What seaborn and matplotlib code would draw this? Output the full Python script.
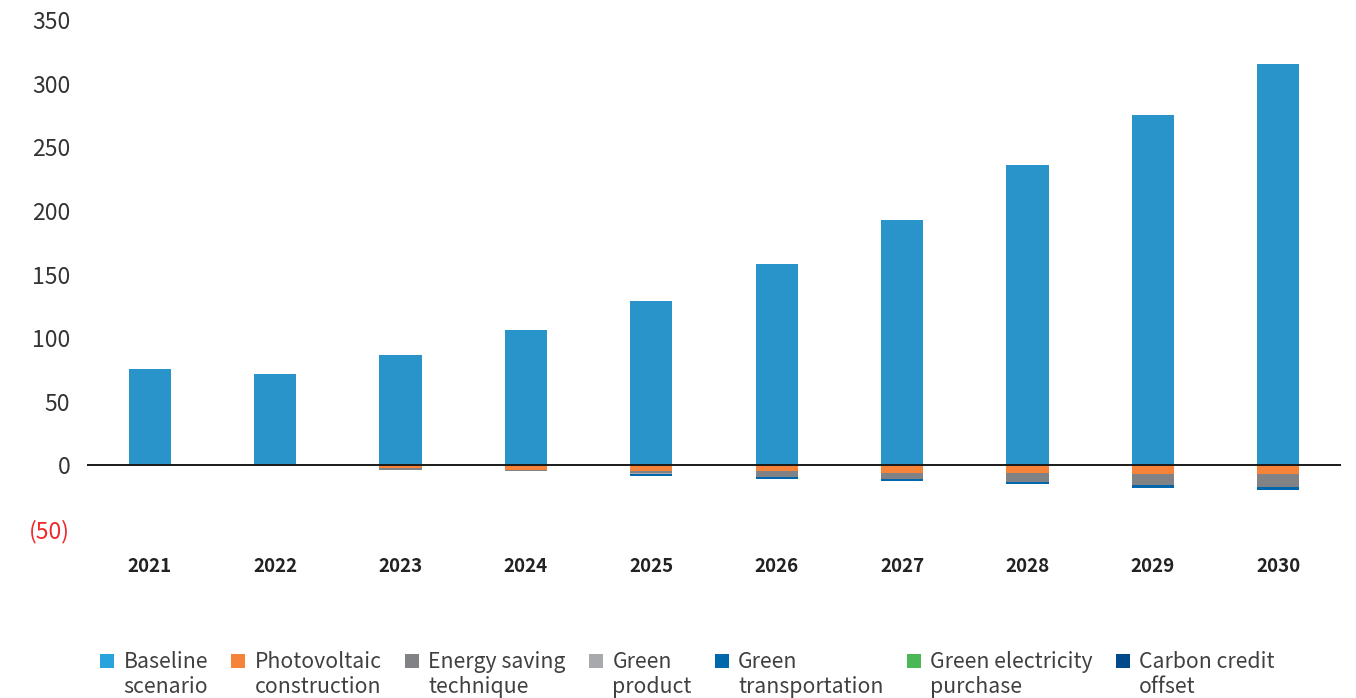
import matplotlib
matplotlib.use("Agg")
import matplotlib.pyplot as plt
import seaborn as sns
import numpy as np
import pandas as pd
from matplotlib.patches import Patch, Rectangle
from matplotlib.legend_handler import HandlerPatch

years = ["2021", "2022", "2023", "2024", "2025", "2026", "2027", "2028", "2029", "2030"]
baseline = [76, 72, 87, 106, 129, 158.5, 193, 236, 275, 315.5]
photovoltaic = [0, 0, -2.2, -3.4, -4.2, -4.2, -5.8, -5.8, -6.5, -7.0]
energy_saving = [0, 0, -1.5, -1.3, -2.1, -4.7, -4.7, -7.0, -8.6, -9.7]
green_product = [0, 0, 0, 0, -0.3, -0.3, -0.3, -0.3, -0.3, -0.3]
green_transport = [0, 0, 0, 0, -1.6, -1.6, -1.6, -1.6, -2.4, -2.4]
green_electricity = [0, 0, 0, 0, 0, 0, 0, 0, 0, 0]
carbon_offset = [0, 0, 0, 0, 0, 0, 0, 0, 0, 0]

labels = ["Baseline\nscenario", "Photovoltaic\nconstruction", "Energy saving\ntechnique",
          "Green\nproduct", "Green\ntransportation", "Green electricity\npurchase",
          "Carbon credit\noffset"]
bar_colors = ["#2894c9", "#f5843a", "#808285", "#a7a9ac", "#0067ac", "#4cb756", "#00498a"]
legend_colors = ["#29a3dc", "#f5843a", "#808285", "#a7a9ac", "#0067ac", "#4cb756", "#00498a"]
yticks = [-50, 0, 50, 100, 150, 200, 250, 300, 350]
ytick_labels = ["(50)", "0", "50", "100", "150", "200", "250", "300", "350"]

sns.set_theme(style="white")
plt.rcParams["font.family"] = ["Noto Sans CJK SC", "DejaVu Sans"]

fig = plt.figure(figsize=(13.56, 6.98), dpi=100)
ax = fig.add_axes([87/1356, (698-529)/698, 1254/1356, (529-20)/698])

series = [baseline, photovoltaic, energy_saving, green_product, green_transport,
          green_electricity, carbon_offset]
neg_bottom = np.zeros(len(years))
for i, s in enumerate(series):
    vals = np.array(s, dtype=float)
    df = pd.DataFrame({"year": years, "value": vals})
    if i == 0:
        sns.barplot(data=df, x="year", y="value", color=bar_colors[i], width=0.335,
                    saturation=1, ax=ax, linewidth=0)
    else:
        sns.barplot(data=df, x="year", y="value", color=bar_colors[i], width=0.335,
                    saturation=1, ax=ax, linewidth=0, bottom=neg_bottom.copy())
        neg_bottom = neg_bottom + vals

ax.axhline(0, color="#1a1a1a", lw=1.4, zorder=5)
ax.set_ylim(-50, 350)
ax.set_yticks(yticks)
ax.set_yticklabels(ytick_labels, fontsize=16.5, color="#333333")
ax.get_yticklabels()[0].set_color("#ee2a2a")
ax.tick_params(axis="y", length=0, pad=12)
ax.tick_params(axis="x", length=0, pad=20)
for t in ax.get_xticklabels():
    t.set_fontsize(13.5)
    t.set_fontweight("bold")
    t.set_color("#222222")
ax.set_xlabel("")
ax.set_ylabel("")
for sp in ax.spines.values():
    sp.set_visible(False)
ax.grid(False)

LEG_FS = 15.3
LINESP = 1.15


def top_patch(legend, orig_handle, xdescent, ydescent, width, height, fontsize):
    shift = fontsize * 0.68
    return Rectangle((-xdescent, -ydescent + shift), width, height)


handles = [Patch(facecolor=c, edgecolor="none") for c in legend_colors]
leg = fig.legend(handles, labels, loc="upper left", bbox_to_anchor=(81/1356, 1 - 632/698),
                 ncol=7, frameon=False, fontsize=LEG_FS, handlelength=0.66, handleheight=0.66,
                 handletextpad=0.45, columnspacing=1.08, labelspacing=0.2,
                 handler_map={Patch: HandlerPatch(patch_func=top_patch)})
for t in leg.get_texts():
    t.set_color("#404040")
    t.set_linespacing(LINESP)

fig.savefig("out.png", dpi=100)
